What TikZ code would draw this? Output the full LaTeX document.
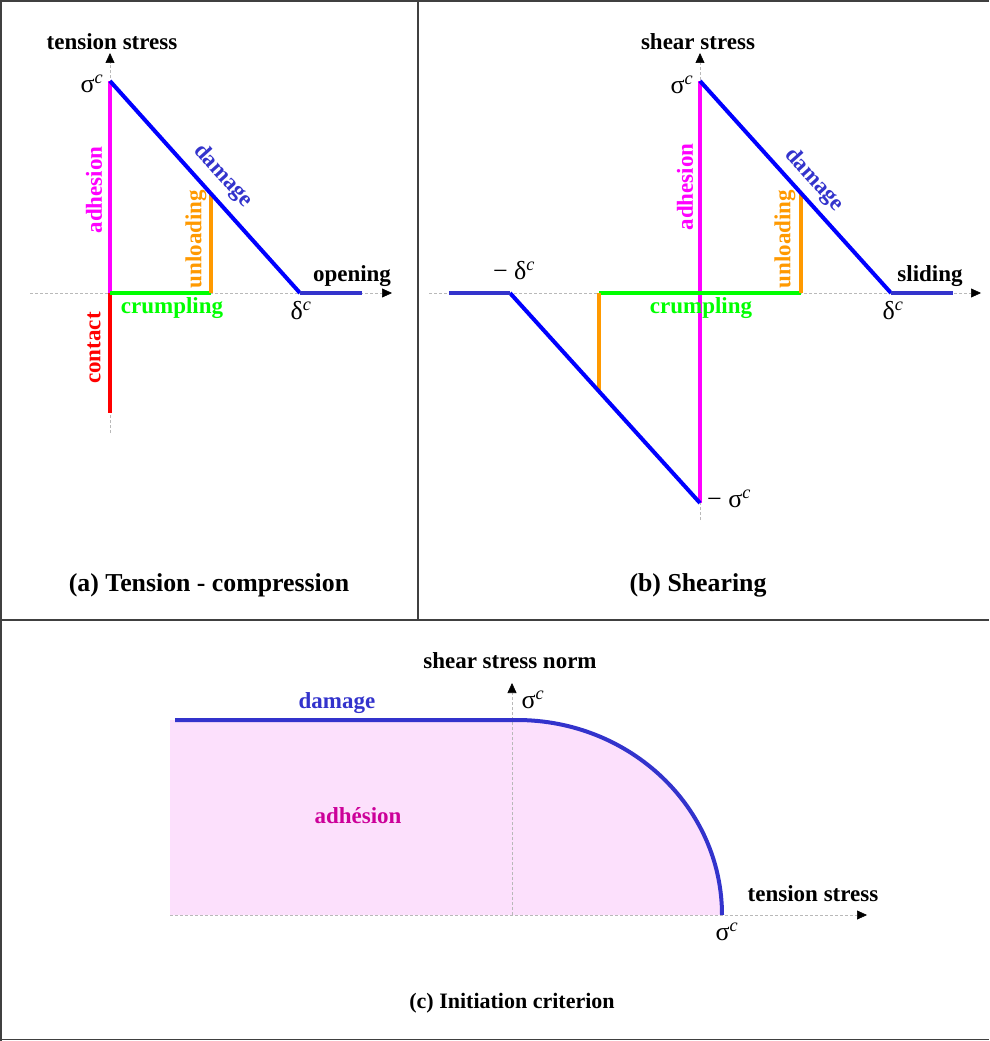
\documentclass[tikz,border=0pt]{standalone}
\usepackage{fontspec}
\setmainfont{Liberation Serif}
\usetikzlibrary{arrows.meta}

\definecolor{adhcol}{HTML}{FF00FF}
\definecolor{dmgcol}{HTML}{0000FF}
\definecolor{flatcol}{HTML}{3333CC}
\definecolor{concol}{HTML}{FF0000}
\definecolor{crucol}{HTML}{00FF00}
\definecolor{unlcol}{HTML}{FF9900}
\definecolor{pinkcol}{HTML}{FCE0FC}
\definecolor{adhtxt}{HTML}{CC0099}
\definecolor{framecol}{HTML}{404040}

\newcommand{\sigc}{σ\textsuperscript{\textit{c}}}
\newcommand{\delc}{δ\textsuperscript{\textit{c}}}

\begin{document}
\begin{tikzpicture}[x=1pt, y=-1pt,
  framel/.style={draw=framecol, line width=1.5pt},
  axis/.style={draw=gray!55, line width=0.6pt, dash pattern=on 3pt off 2pt},
  axisarrow/.style={axis, -{Triangle[length=10pt,width=9pt,color=black]}},
  curve/.style={line width=4pt},
  lab/.style={font=\fontsize{23}{23}\selectfont\bfseries, inner sep=0pt},
  sym/.style={font=\fontsize{26}{26}\selectfont, inner sep=0pt},
  caption/.style={font=\fontsize{25.8}{26}\selectfont\bfseries, inner sep=0pt}]

\useasboundingbox (0,0) rectangle (989,1041);

% Cadre
\draw[framel] (0,1) -- (989,1);
\draw[framel] (1,0) -- (1,1041);
\draw[framel] (0,1039.5) -- (989,1039.5);
\draw[framel] (418,0) -- (418,620);
\draw[framel] (0,620) -- (989,620);

% ---------- (a) traction - compression ----------
\coordinate (Ao) at (110,293);
\coordinate (As) at (110,81);
\coordinate (Ad) at (300,293);
\coordinate (Ae) at (362,293);
\coordinate (Ac) at (110,413);
\coordinate (Au) at (211,293);
\coordinate (Av) at (211,193.6);
\coordinate (Axl) at (30,293);
\coordinate (Axr) at (392,293);
\coordinate (Ayb) at (110,433);
\coordinate (Ayt) at (110,53);

% Axes
\draw[axisarrow] (Axl) -- (Axr);
\draw[axisarrow] (Ayb) -- (Ayt);

% Courbes
\draw[curve, adhcol] (As) -- (Ao);
\draw[curve, concol] (Ao) -- (Ac);
\draw[curve, crucol] (Ao) -- (Au);
\draw[curve, unlcol] (Au) -- (Av);
\draw[curve, dmgcol] (As) -- (Ad);
\draw[curve, flatcol] (Ad) -- (Ae);

% Textes
\node[lab] (Atitle) at (112,42) {tension stress};
\node[sym] (Asig) at (92,84) {\sigc};
\node[lab, adhcol, rotate=90] (Aadh) at (94,190) {adhesion};
\node[lab, concol, rotate=90] (Acon) at (94,348) {contact};
\node[lab, crucol] (Acru) at (172,308) {crumpling};
\node[lab, unlcol, rotate=90] (Aunl) at (196,239) {unloading};
\node[lab, flatcol, rotate=-48] (Admg) at (223,176) {damage};
\node[lab] (Aope) at (352,276) {opening};
\node[sym] (Adel) at (301,311) {\delc};
\node[caption] (Acap) at (209,585) {(a) Tension - compression};

% ---------- (b) cisaillement ----------
\coordinate (Bo) at (700,293);
\coordinate (Bs) at (700,81);
\coordinate (Bm) at (700,503);
\coordinate (Bd) at (891,293);
\coordinate (Be) at (953,293);
\coordinate (Bnd) at (510,293);
\coordinate (Bne) at (449,293);
\coordinate (Bul) at (599,293);
\coordinate (Bvl) at (599,391.4);
\coordinate (Bur) at (801,293);
\coordinate (Bvr) at (801,193.1);
\coordinate (Bxl) at (429,293);
\coordinate (Bxr) at (981,293);
\coordinate (Byb) at (700,520);
\coordinate (Byt) at (700,53);

% Axes
\draw[axisarrow] (Bxl) -- (Bxr);
\draw[axisarrow] (Byb) -- (Byt);

% Courbes
\draw[curve, adhcol] (Bs) -- (Bm);
\draw[curve, crucol] (Bul) -- (Bur);
\draw[curve, unlcol] (Bur) -- (Bvr);
\draw[curve, unlcol] (Bul) -- (Bvl);
\draw[curve, dmgcol] (Bs) -- (Bd);
\draw[curve, dmgcol] (Bnd) -- (Bm);
\draw[curve, flatcol] (Bd) -- (Be);
\draw[curve, flatcol] (Bne) -- (Bnd);

% Textes
\node[lab] (Btitle) at (698,42) {shear stress};
\node[sym] (Bsig) at (682,85) {\sigc};
\node[sym] (Bmsig) at (729,499) {− \sigc};
\node[sym] (Bmdel) at (514,271) {− \delc};
\node[lab, adhcol, rotate=90] (Badh) at (685,187) {adhesion};
\node[lab, crucol] (Bcru) at (701,308) {crumpling};
\node[lab, unlcol, rotate=90] (Bunl) at (785,239) {unloading};
\node[lab, flatcol, rotate=-48] (Bdmg) at (814,180) {damage};
\node[lab] (Bsli) at (930,276) {sliding};
\node[sym] (Bdel) at (893,311) {\delc};
\node[caption] (Bcap) at (698,585) {(b) Shearing};

% ---------- (c) critere d'initiation ----------
\coordinate (Co) at (517,915);
\coordinate (Ct) at (517,720);
\coordinate (Cr) at (722,915);
\coordinate (Cxl) at (170,915);
\coordinate (Cxr) at (867,915);
\coordinate (Cyb) at (512,915);
\coordinate (Cyt) at (512,683);

% Zone d'adhesion
\fill[pinkcol] (Cxl) -- (170,720) -- (Ct)
  arc[start angle=-90, end angle=0, x radius=205, y radius=195] -- cycle;

% Axes
\draw[axisarrow] (Cxl) -- (Cxr);
\draw[axisarrow] (Cyb) -- (Cyt);

% Critere
\draw[curve, flatcol] (175,720) -- (Ct)
  arc[start angle=-90, end angle=0, x radius=205, y radius=195];

% Textes
\node[lab] (Ctitle) at (510,661) {shear stress norm};
\node[sym] (Csig) at (533,700) {\sigc};
\node[lab] (Cten) at (813,894) {tension stress};
\node[sym] (Csigr) at (727,932) {\sigc};
\node[lab, flatcol] (Cdmg) at (337,703) {damage};
\node[lab, adhtxt] (Cadh) at (358,816) {adhésion};
\node[caption, font=\fontsize{22}{22}\selectfont\bfseries] (Ccap) at (512,1003) {(c) Initiation criterion};

\end{tikzpicture}
\end{document}
